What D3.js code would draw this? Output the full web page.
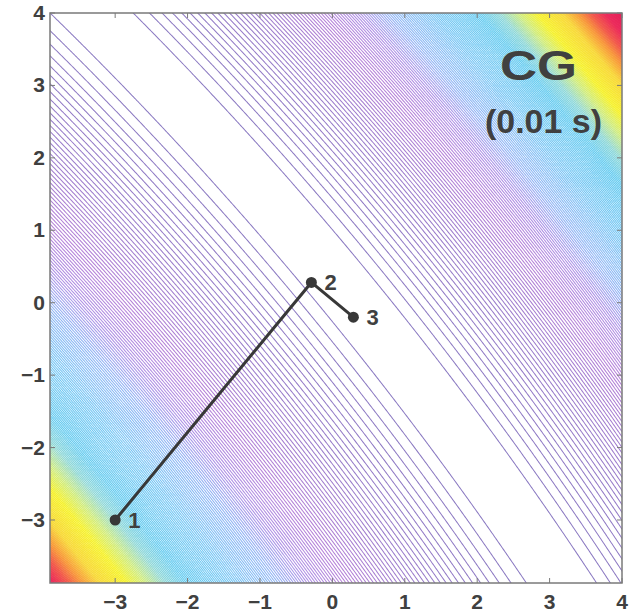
<!DOCTYPE html>
<html>
<head>
<meta charset="utf-8">
<script src="https://cdnjs.cloudflare.com/ajax/libs/d3/7.8.5/d3.min.js"></script>
<style>
body { margin: 0; background: #fff; }
text { font-family: "Liberation Sans", Arial, sans-serif; font-weight: bold; fill: #404040; }
</style>
</head>
<body>
<script>
// axes
var xTicks = [-3, -2, -1, 0, 1, 2, 3, 4];
var yTicks = [-3, -2, -1, 0, 1, 2, 3, 4];
var xDomain = [-3.9, 4];
var yDomain = [-3.87, 4];

// the valley: a point on it, its direction, how much it bends,
// and how steep the walls are on the lower-left / upper-right side
var valleyPoint = [0.146, 0.23];
var valleyDir = [0.636, -0.772];
var valleyBend = 0.01;
var wallSteep = [1, 1.2];
var levelStep = 0.09;
var levelTop = 18.5;

// contour colours by level
var colourLevels = [0, 1.5, 3, 4.2, 5.2, 7, 9, 10, 11, 12, 13.5, 14.5, 15.3, 16.2, 18];
var colourList = ["#8878c0", "#9c7ccc", "#b680d8", "#ae90e6", "#90b4f4", "#74c6f4", "#66ccf0",
                  "#90d8d8", "#d0ec80", "#f6f230", "#f8d83c", "#f8983c", "#f25a4c", "#ec2c5c", "#e01858"];
var widthLevels = [0, 8, 12, 17];
var widthList = [1, 1.1, 1.4, 1.7];

// CG iterates
var stepX = [-3, -0.29, 0.29];
var stepY = [-3, 0.28, -0.2];
var stepLabels = ["1", "2", "3"];

var title = "CG";
var subtitle = "(0.01 s)";

var w = 633;
var h = 613;
var svg = d3.select("body")
    .append("svg")
    .attr("width", w)
    .attr("height", h);

var x = d3.scaleLinear().domain(xDomain).range([50, 622]);
var y = d3.scaleLinear().domain(yDomain).range([583, 13]);

// grid a bit larger than the box so ring borders fall outside the clip
var n = 360;
var gx = d3.scaleLinear().domain([0, n - 1]).range([xDomain[0] - 0.2, xDomain[1] + 0.2]);
var gy = d3.scaleLinear().domain([0, n - 1]).range([yDomain[1] + 0.2, yDomain[0] - 0.2]);

var across = [-valleyDir[1], valleyDir[0]];

var values = new Float64Array(n * n);
for (var j = 0; j < n; j++) {
  for (var i = 0; i < n; i++) {
    var dx = gx(i) - valleyPoint[0], dy = gy(j) - valleyPoint[1];
    var u = across[0] * dx + across[1] * dy;
    var v = valleyDir[0] * dx + valleyDir[1] * dy;
    var g = u + valleyBend * v * v;
    values[j * n + i] = 0.5 * g * g * (g < 0 ? wallSteep[0] : wallSteep[1]);
  }
}

var levels = d3.range(levelStep, levelTop, levelStep);
var colour = d3.scaleLinear().domain(colourLevels).range(colourList).clamp(true);
var width = d3.scaleLinear().domain(widthLevels).range(widthList).clamp(true);

var contours = d3.contours().size([n, n]).thresholds(levels)(values);

var path = d3.geoPath(d3.geoTransform({
  point: function(px, py) {
    this.stream.point(x(gx(px - 0.5)), y(gy(py - 0.5)));
  }
}));

svg.append("clipPath").attr("id", "box")
  .append("rect")
  .attr("x", 50).attr("y", 13)
  .attr("width", 572).attr("height", 570);

svg.append("g")
  .attr("clip-path", "url(#box)")
  .selectAll("path")
  .data(contours)
  .enter()
  .append("path")
  .attr("d", path)
  .attr("fill", "none")
  .attr("stroke", function(d) { return colour(d.value); })
  .attr("stroke-width", function(d) { return width(d.value); });

// frame and ticks
svg.append("rect")
  .attr("x", 50).attr("y", 13)
  .attr("width", 572).attr("height", 570)
  .attr("fill", "none")
  .attr("stroke", "#7a7a7a")
  .attr("stroke-width", 1.5);

var tickLen = 5;
var ticks = svg.append("g").attr("stroke", "#7a7a7a").attr("stroke-width", 1);
xTicks.forEach(function(t) {
  ticks.append("line").attr("x1", x(t)).attr("x2", x(t)).attr("y1", 583).attr("y2", 583 - tickLen);
  ticks.append("line").attr("x1", x(t)).attr("x2", x(t)).attr("y1", 13).attr("y2", 13 + tickLen);
});
yTicks.forEach(function(t) {
  ticks.append("line").attr("y1", y(t)).attr("y2", y(t)).attr("x1", 50).attr("x2", 50 + tickLen);
  ticks.append("line").attr("y1", y(t)).attr("y2", y(t)).attr("x1", 622).attr("x2", 622 - tickLen);
});

function fmt(t) { return t < 0 ? "\u2212" + Math.abs(t) : String(t); }

svg.selectAll("text.xt")
  .data(xTicks)
  .enter()
  .append("text")
  .attr("class", "xt")
  .attr("x", function(d) { return x(d); })
  .attr("y", 609)
  .attr("text-anchor", "middle")
  .attr("font-size", 21)
  .text(fmt);

svg.selectAll("text.yt")
  .data(yTicks)
  .enter()
  .append("text")
  .attr("class", "yt")
  .attr("x", 45)
  .attr("y", function(d) { return y(d) + 7; })
  .attr("text-anchor", "end")
  .attr("font-size", 21)
  .text(fmt);

// CG path
var pts = stepX.map(function(d, i) { return [d, stepY[i]]; });
svg.append("path")
  .attr("d", d3.line().x(function(d) { return x(d[0]); }).y(function(d) { return y(d[1]); })(pts))
  .attr("fill", "none")
  .attr("stroke", "#383838")
  .attr("stroke-width", 3);

svg.selectAll("circle")
  .data(pts)
  .enter()
  .append("circle")
  .attr("cx", function(d) { return x(d[0]); })
  .attr("cy", function(d) { return y(d[1]); })
  .attr("r", 5.5)
  .attr("fill", "#383838");

svg.selectAll("text.step")
  .data(pts)
  .enter()
  .append("text")
  .attr("class", "step")
  .attr("x", function(d) { return x(d[0]) + 13; })
  .attr("y", function(d) { return y(d[1]) + 8; })
  .attr("font-size", 22)
  .text(function(d, i) { return stepLabels[i]; });

svg.append("text")
  .attr("x", 500).attr("y", 80)
  .attr("font-size", 43)
  .attr("textLength", 77)
  .attr("lengthAdjust", "spacingAndGlyphs")
  .text(title);

svg.append("text")
  .attr("x", 485).attr("y", 133)
  .attr("font-size", 34)
  .attr("textLength", 117)
  .attr("lengthAdjust", "spacingAndGlyphs")
  .text(subtitle);
</script>
</body>
</html>
